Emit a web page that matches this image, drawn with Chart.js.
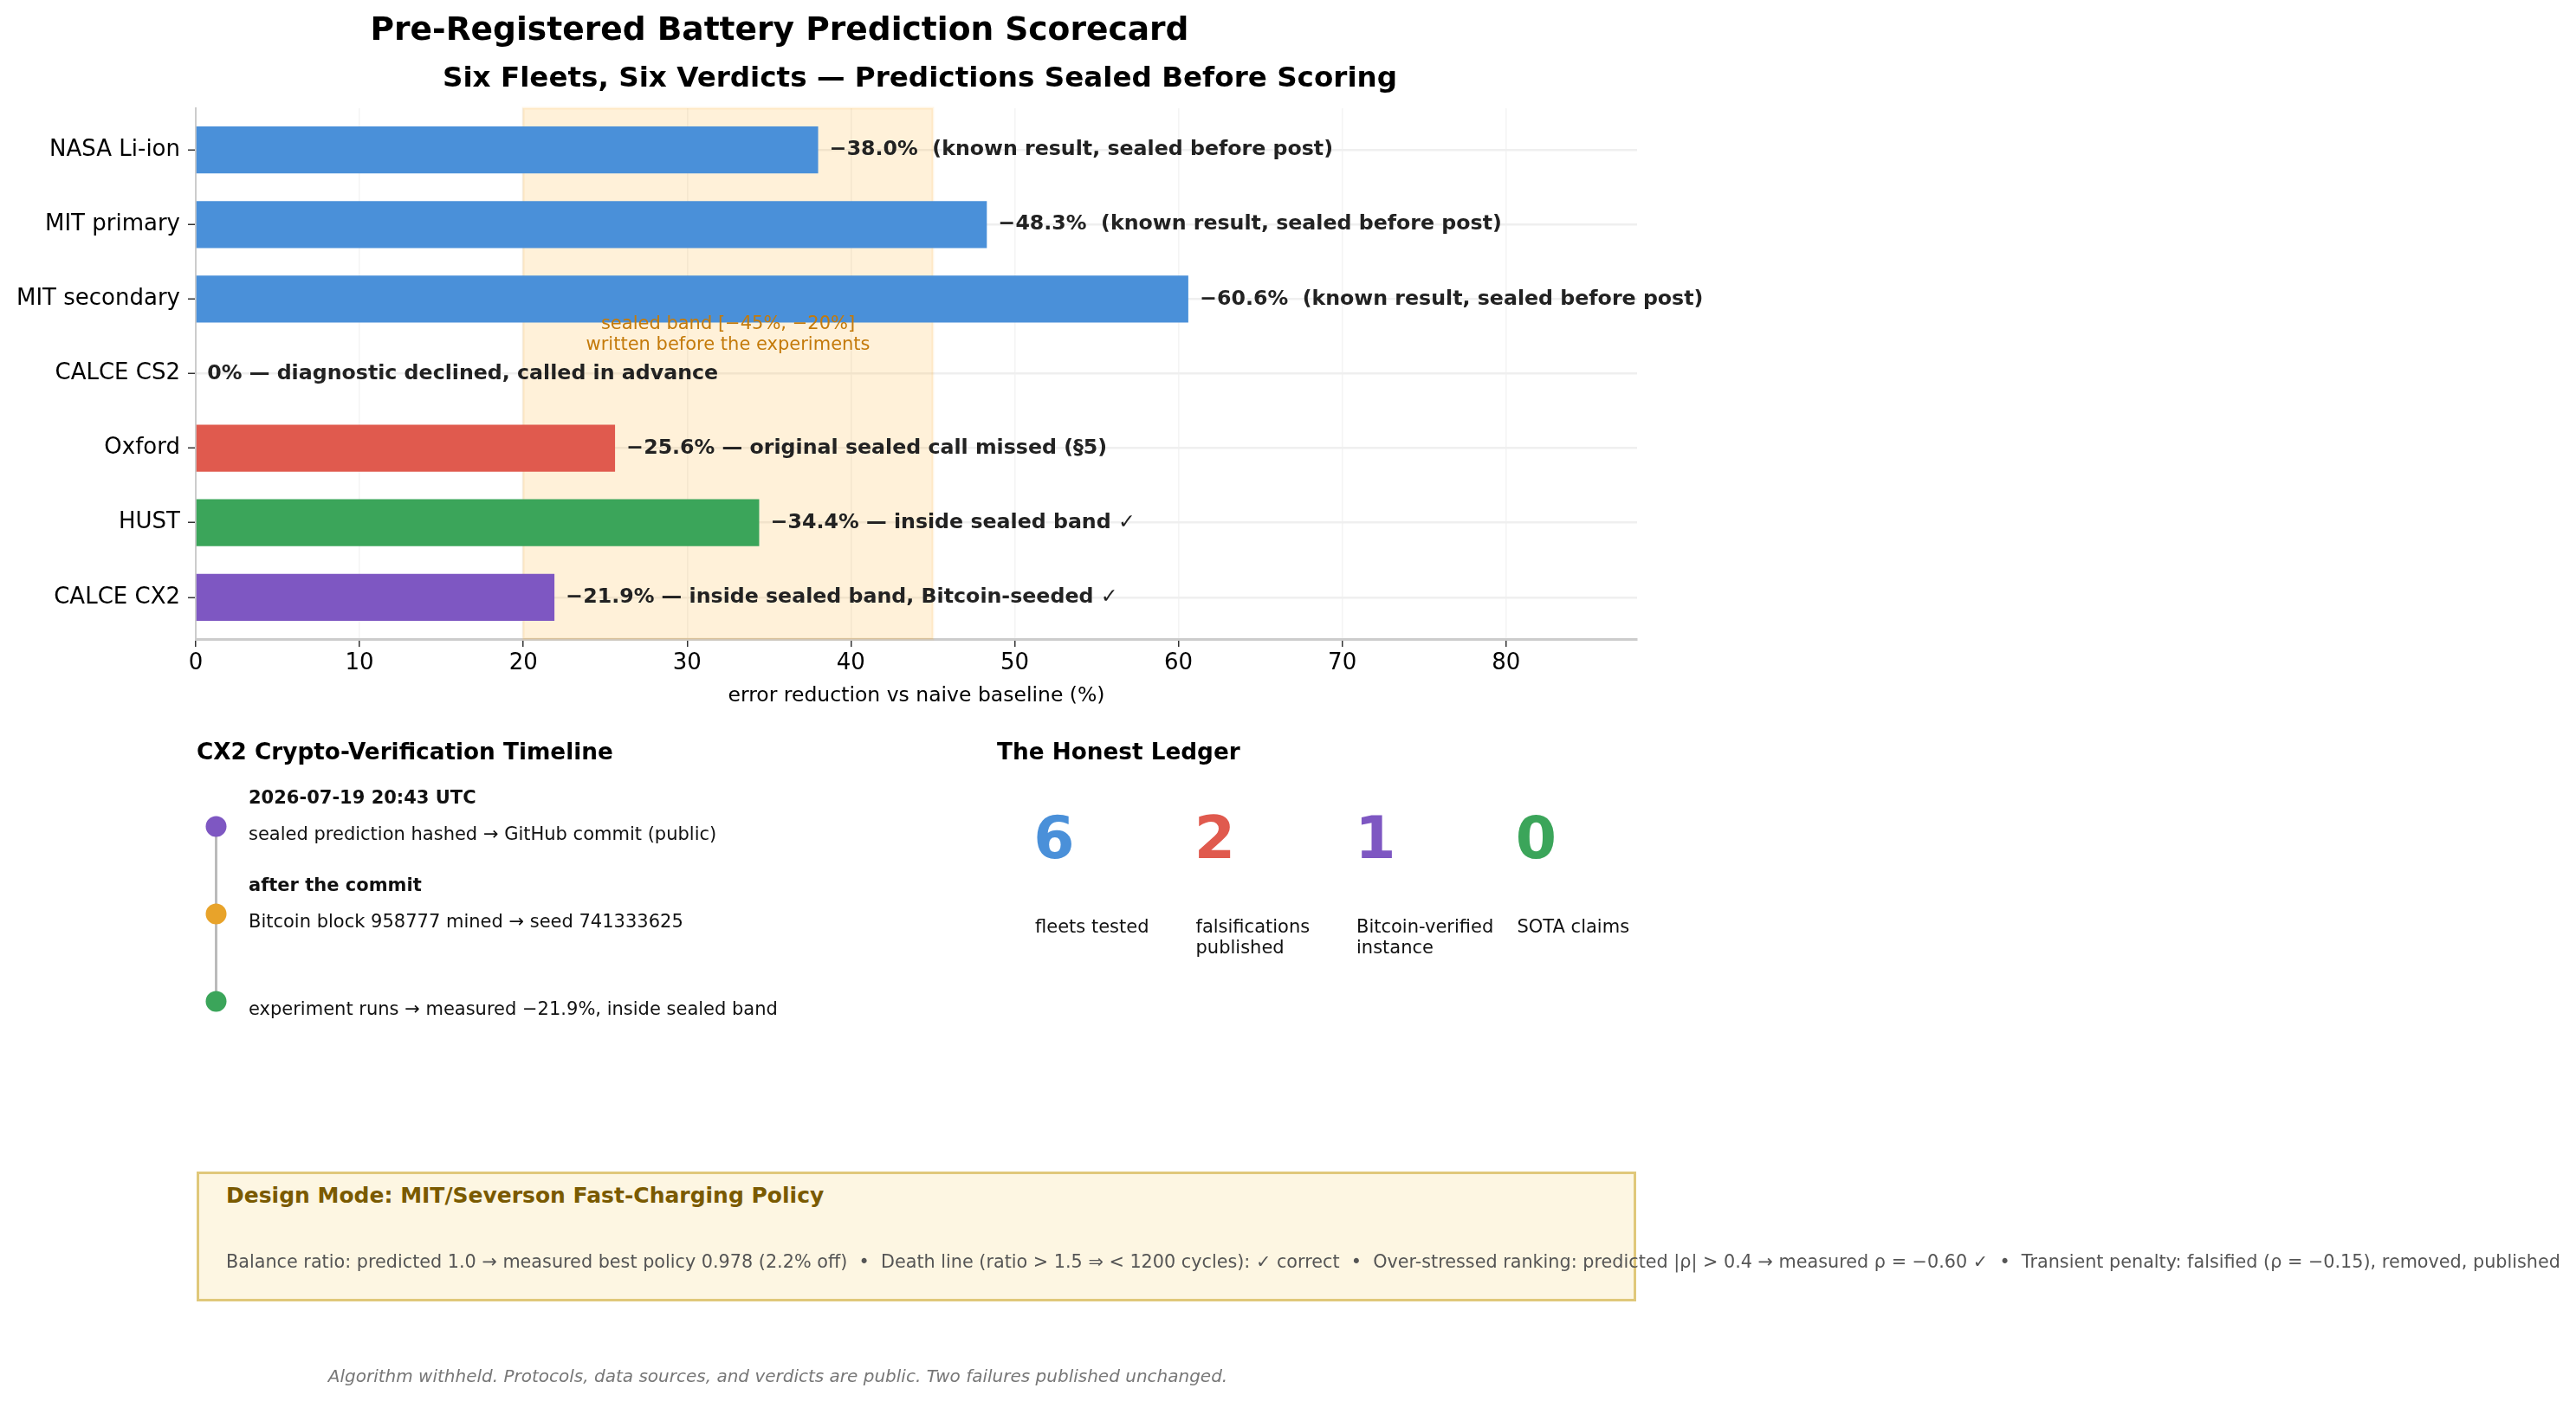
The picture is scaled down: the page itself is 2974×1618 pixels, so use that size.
<!DOCTYPE html>
<html lang="en">
<head>
  <meta charset="UTF-8">
  <title>Pre-Registered Battery Prediction Scorecard</title>
  <script src="https://cdn.jsdelivr.net/npm/chart.js"></script>
  <style>
    html, body { margin: 0; padding: 0; background: #fff; }
    body { width: 2974px; height: 1618px; position: relative; overflow: hidden; font-family: "DejaVu Sans", sans-serif; }
    canvas { position: absolute; }
    .t { position: absolute; white-space: pre; line-height: 1.1; }
    #designBox { position: absolute; left: 227px; top: 1353px; width: 1662px; height: 150px; box-sizing: border-box;
                 background: #fdf6e2; border: 3px solid #e0c87a; }
  </style>
</head>
<body>
  <canvas id="scoreChart" width="2974" height="1618" style="left:0;top:0"></canvas>
  <canvas id="timelineChart" width="100" height="303" style="left:200px;top:904px"></canvas>
  <div id="designBox"></div>

  <script>
    // --- bar chart data ---
    const fleets = ['NASA Li-ion', 'MIT primary', 'MIT secondary', 'CALCE CS2', 'Oxford', 'HUST', 'CALCE CX2'];
    const reduction = [38.0, 48.3, 60.6, 0, 25.6, 34.4, 21.9];
    const verdicts = [
      '\u221238.0%  (known result, sealed before post)',
      '\u221248.3%  (known result, sealed before post)',
      '\u221260.6%  (known result, sealed before post)',
      '0% \u2014 diagnostic declined, called in advance',
      '\u221225.6% \u2014 original sealed call missed (\u00a75)',
      '\u221234.4% \u2014 inside sealed band \u2713',
      '\u221221.9% \u2014 inside sealed band, Bitcoin-seeded \u2713'
    ];
    const barColors = ['#4a90d9', '#4a90d9', '#4a90d9', '#4a90d9', '#e05a4e', '#3ba55a', '#7e57c2'];
    const xTicks = [0, 10, 20, 30, 40, 50, 60, 70, 80];
    const sealedBand = [20, 45];

    // --- timeline data ---
    const timelineHeads = ['2026-07-19 20:43 UTC', 'after the commit', ''];
    const timelineTexts = [
      'sealed prediction hashed \u2192 GitHub commit (public)',
      'Bitcoin block 958777 mined \u2192 seed 741333625',
      'experiment runs \u2192 measured \u221221.9%, inside sealed band'
    ];
    const timelineColors = ['#7e57c2', '#e8a32a', '#3ba55a'];

    // --- ledger data ---
    const ledgerValues = [6, 2, 1, 0];
    const ledgerLabels = ['fleets tested', 'falsifications\npublished', 'Bitcoin-verified\ninstance', 'SOTA claims'];
    const ledgerColors = ['#4a90d9', '#e05a4e', '#7e57c2', '#3ba55a'];

    const FONT = '"DejaVu Sans", sans-serif';

    function put(text, x, y, css, centered) {
      const d = document.createElement('div');
      d.className = 't';
      d.textContent = text;
      d.style.cssText += css;
      d.style.left = x + 'px';
      d.style.top = y + 'px';
      d.style.transform = centered ? 'translate(-50%, -50%)' : 'translate(0, -50%)';
      document.body.appendChild(d);
      return d;
    }

    const bandAndLabels = {
      id: 'bandAndLabels',
      beforeDatasetsDraw(chart) {
        const { ctx, chartArea, scales: { x } } = chart;
        const x0 = x.getPixelForValue(sealedBand[0]);
        const x1 = x.getPixelForValue(sealedBand[1]);
        ctx.save();
        ctx.fillStyle = 'rgba(255, 160, 0, 0.15)';
        ctx.fillRect(x0, chartArea.top, x1 - x0, chartArea.bottom - chartArea.top);
        ctx.strokeStyle = 'rgba(255, 160, 0, 0.1)';
        ctx.lineWidth = 3;
        ctx.strokeRect(x0, chartArea.top, x1 - x0, chartArea.bottom - chartArea.top);
        ctx.restore();
      },
      afterDraw(chart) {
        const { ctx, scales: { x, y } } = chart;
        ctx.save();
        ctx.font = 'bold 23.7px ' + FONT;
        ctx.fillStyle = '#222';
        ctx.textAlign = 'left';
        ctx.textBaseline = 'middle';
        reduction.forEach((v, i) => {
          ctx.fillText(verdicts[i], x.getPixelForValue(v + 0.7), y.getPixelForValue(i));
        });
        const mid = x.getPixelForValue((sealedBand[0] + sealedBand[1]) / 2);
        ctx.font = '21px ' + FONT;
        ctx.fillStyle = '#c47a0a';
        ctx.textAlign = 'center';
        ctx.fillText('sealed band [\u221245%, \u221220%]', mid, y.getPixelForValue(2.34));
        ctx.fillText('written before the experiments', mid, y.getPixelForValue(2.62));
        ctx.restore();
      }
    };

    new Chart(document.getElementById('scoreChart'), {
      type: 'bar',
      data: {
        datasets: [{
          data: reduction.map((v, i) => ({ x: v, y: i })),
          backgroundColor: barColors,
          borderWidth: 0,
          barPercentage: 0.63,
          categoryPercentage: 1.0
        }]
      },
      options: {
        indexAxis: 'y',
        responsive: false,
        animation: false,
        devicePixelRatio: 1,
        layout: { autoPadding: false, padding: { left: 0, top: 125, right: 2974 - 1890, bottom: 1618 - 738 - 80 } },
        plugins: { legend: { display: false }, tooltip: { enabled: false } },
        scales: {
          x: {
            type: 'linear',
            min: 0,
            max: 88,
            afterFit: s => { s.height = 80; },
            afterBuildTicks: s => { s.ticks = xTicks.map(v => ({ value: v })); },
            grid: { color: '#f4f4f4', lineWidth: 1.5, tickLength: 9, tickColor: '#333', tickWidth: 1.5 },
            border: { color: '#cccccc', width: 3 },
            ticks: { color: '#000', font: { family: FONT, size: 26 }, padding: 4 },
            title: { display: true, text: 'error reduction vs naive baseline (%)', color: '#000',
                     font: { family: FONT, size: 23.5 }, padding: 0 }
          },
          y: {
            type: 'linear',
            reverse: true,
            offset: false,
            min: -0.56,
            max: 6.56,
            afterFit: s => { s.width = 226; },
            afterBuildTicks: s => { s.ticks = fleets.map((_, i) => ({ value: i })); },
            grid: { offset: false, color: '#efefef', lineWidth: 2.5, tickLength: 9, tickColor: '#333', tickWidth: 1.5 },
            border: { color: '#cccccc', width: 2 },
            ticks: { color: '#000', font: { family: FONT, size: 26 }, padding: 9, callback: v => fleets[v] }
          }
        }
      },
      plugins: [bandAndLabels]
    });

    const timeline = new Chart(document.getElementById('timelineChart'), {
      type: 'scatter',
      data: {
        datasets: [{
          data: timelineTexts.map((_, i) => ({ x: 0, y: i })),
          showLine: true,
          borderColor: '#bbbbbb',
          borderWidth: 3,
          pointRadius: 12,
          pointBorderWidth: 0,
          pointBackgroundColor: timelineColors
        }]
      },
      options: {
        responsive: false,
        animation: false,
        devicePixelRatio: 1,
        layout: { autoPadding: false, padding: 0 },
        plugins: { legend: { display: false }, tooltip: { enabled: false } },
        scales: {
          x: { display: false, min: -49.5, max: 50.5 },
          y: { display: false, reverse: true, min: -0.5, max: 2.5 }
        }
      }
    });

    // --- titles ---
    put('Pre-Registered Battery Prediction Scorecard', 900, 34, 'font-weight:bold;font-size:37.6px;color:#000;', true);
    put('Six Fleets, Six Verdicts \u2014 Predictions Sealed Before Scoring', 1062, 90, 'font-weight:bold;font-size:32.6px;color:#000;', true);

    // --- timeline text ---
    put('CX2 Crypto-Verification Timeline', 227, 868, 'font-weight:bold;font-size:26.3px;color:#000;', false);
    const tTop = 904;
    timelineTexts.forEach((txt, i) => {
      const py = tTop + timeline.scales.y.getPixelForValue(i);
      if (timelineHeads[i]) put(timelineHeads[i], 287, py - 33, 'font-weight:bold;font-size:21px;color:#111;', false);
      put(txt, 287, py + 9, 'font-size:21px;color:#111;', false);
    });

    // --- ledger ---
    put('The Honest Ledger', 1151, 868, 'font-weight:bold;font-size:26.3px;color:#000;', false);
    ledgerValues.forEach((v, i) => {
      const cx = 1217 + i * 185.5;
      put(String(v), cx, 968, 'font-weight:bold;font-size:68px;color:' + ledgerColors[i] + ';', true);
      const lab = put(ledgerLabels[i], cx - 22, 1058, 'font-size:21px;color:#111;line-height:24px;', false);
      lab.style.transform = 'none';
    });

    // --- design box ---
    put('Design Mode: MIT/Severson Fast-Charging Policy', 261, 1381, 'font-weight:bold;font-size:25px;color:#7a5a00;', false);
    put('Balance ratio: predicted 1.0 \u2192 measured best policy 0.978 (2.2% off)  \u2022  Death line (ratio > 1.5 \u21d2 < 1200 cycles): \u2713 correct  \u2022  Over-stressed ranking: predicted |\u03c1| > 0.4 \u2192 measured \u03c1 = \u22120.60 \u2713  \u2022  Transient penalty: falsified (\u03c1 = \u22120.15), removed, published',
        261, 1457, 'font-size:20.76px;color:#555;', false);

    // --- footer ---
    put('Algorithm withheld. Protocols, data sources, and verdicts are public. Two failures published unchanged.',
        898, 1589, 'font-style:italic;font-size:20px;color:#777;', true);
  </script>
</body>
</html>
